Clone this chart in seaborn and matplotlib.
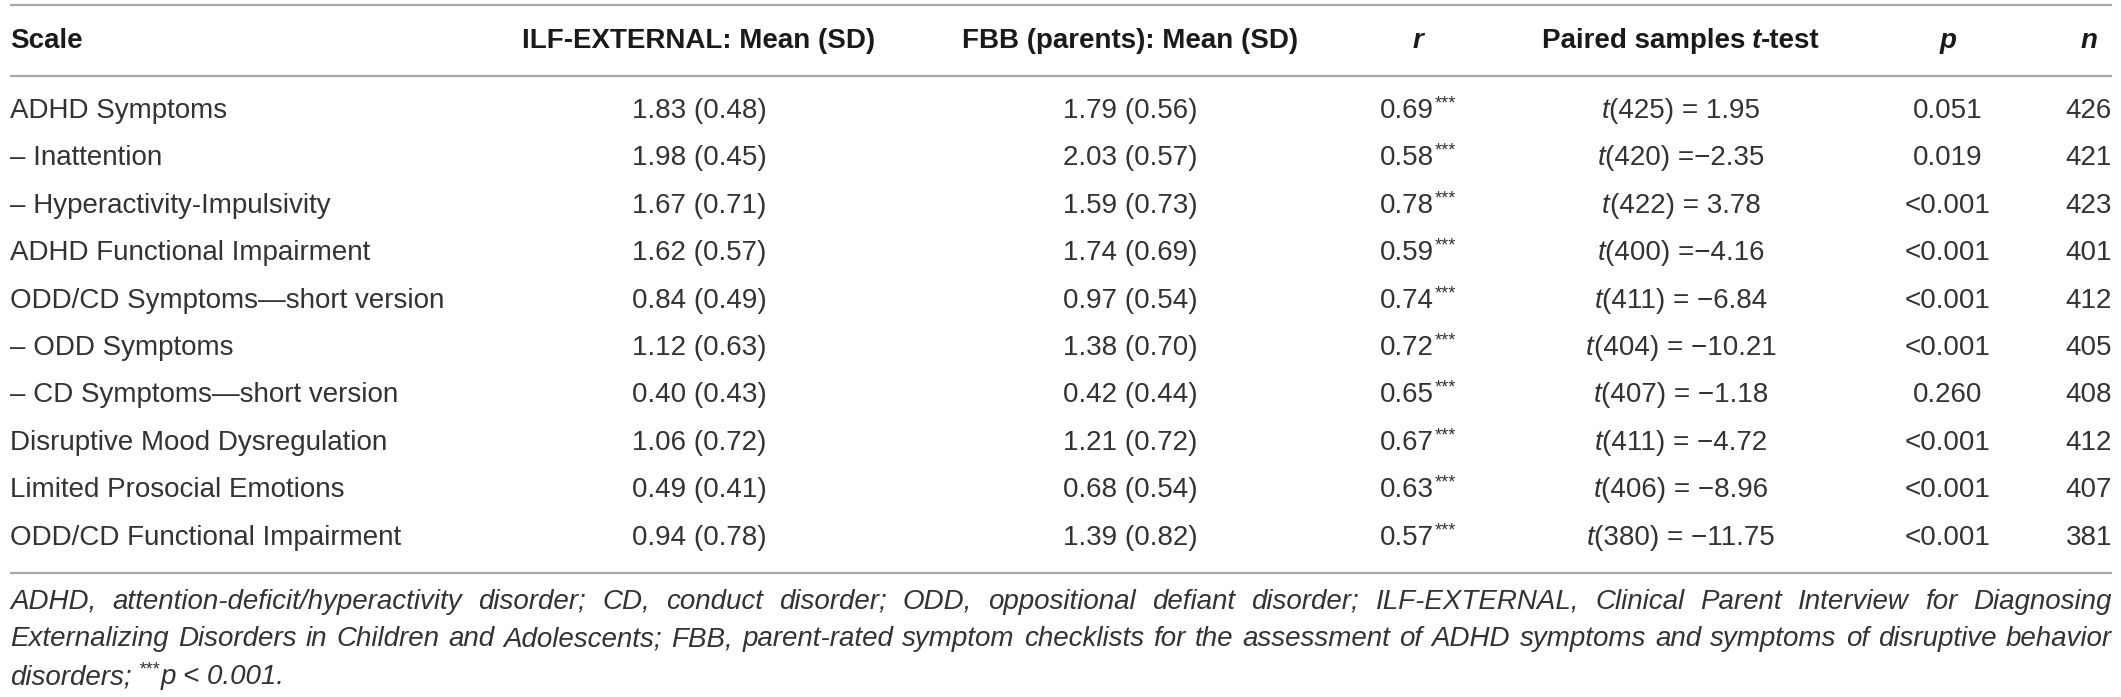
import matplotlib
matplotlib.use("Agg")
import matplotlib.pyplot as plt
import seaborn as sns

sns.set_theme(style="white")
FAM = ["Liberation Sans", "DejaVu Sans"]
plt.rcParams["font.family"] = FAM

# ---------------- data ----------------
header_scale = "Scale"
header_ilf = "ILF-EXTERNAL: Mean (SD)"
header_fbb = "FBB (parents): Mean (SD)"
scales = ["ADHD Symptoms", "– Inattention", "– Hyperactivity-Impulsivity",
          "ADHD Functional Impairment", "ODD/CD Symptoms—short version",
          "– ODD Symptoms", "– CD Symptoms—short version",
          "Disruptive Mood Dysregulation", "Limited Prosocial Emotions",
          "ODD/CD Functional Impairment"]
ilf_mean = ["1.83", "1.98", "1.67", "1.62", "0.84", "1.12", "0.40", "1.06", "0.49", "0.94"]
ilf_sd = ["0.48", "0.45", "0.71", "0.57", "0.49", "0.63", "0.43", "0.72", "0.41", "0.78"]
fbb_mean = ["1.79", "2.03", "1.59", "1.74", "0.97", "1.38", "0.42", "1.21", "0.68", "1.39"]
fbb_sd = ["0.56", "0.57", "0.73", "0.69", "0.54", "0.70", "0.44", "0.72", "0.54", "0.82"]
r_vals = ["0.69", "0.58", "0.78", "0.59", "0.74", "0.72", "0.65", "0.67", "0.63", "0.57"]
t_df = ["425", "420", "422", "400", "411", "404", "407", "411", "406", "380"]
t_vals = [" = 1.95", " =\u22122.35", " = 3.78", " =\u22124.16", " = \u22126.84",
          " = \u221210.21", " = \u22121.18", " = \u22124.72", " = \u22128.96", " = \u221211.75"]
p_vals = ["0.051", "0.019", "<0.001", "<0.001", "<0.001", "<0.001", "0.260", "<0.001", "<0.001", "<0.001"]
n_vals = ["426", "421", "423", "401", "412", "405", "408", "412", "407", "381"]
footnote_lines = [
    "ADHD, attention-deficit/hyperactivity disorder; CD, conduct disorder; ODD, oppositional defiant disorder; ILF-EXTERNAL, Clinical Parent Interview for Diagnosing",
    "Externalizing Disorders in Children and Adolescents; FBB, parent-rated symptom checklists for the assessment of ADHD symptoms and symptoms of disruptive behavior",
]
footnote_last = ["disorders;", "***", "p", "< 0.001."]

# ---------------- layout ----------------
W, H = 2121, 697
fig = plt.figure(figsize=(W / 100, H / 100), dpi=100)
ax = fig.add_axes([0, 0, 1, 1])
ax.set_xlim(0, W)
ax.set_ylim(H, 0)
ax.axis("off")

TXT = "#333333"
HEAD = "#1a1a1a"
LINE = "#a8a8a8"
FS = 20
SUP = 13
x_left, x_right = 10, 2112
col_x = [x_left, 699, 1130, 1418, 1681, 1948, 2089]
y_top, y_head, y_hline = 5, 41, 76
row0, dy = 111, 47.4
y_bottom = 573
foot_y = [602, 639, 677]

fig.canvas.draw()
renderer = fig.canvas.get_renderer()


def width_of(t):
    bb = t.get_window_extent(renderer)
    return bb.x1 - bb.x0


def runs(x, y, parts, align="center"):
    """parts: list of (text, kwargs, rise_px, gap_before_px)"""
    arts, widths = [], []
    for s, kw, rise, gap in parts:
        kw2 = dict(fontsize=FS, color=TXT)
        kw2.update(kw)
        a = ax.text(0, y - rise, s, ha="left", va="center", **kw2)
        arts.append((a, gap))
        widths.append(width_of(a))
    total = sum(widths) + sum(g for _, g in arts)
    if align == "center":
        cx = x - total / 2
    elif align == "left":
        cx = x
    else:
        cx = x - total
    for (a, gap), w in zip(arts, widths):
        cx += gap
        a.set_x(cx)
        cx += w


for y in (y_top, y_hline, y_bottom):
    ax.plot([x_left, x_right], [y, y], color=LINE, lw=1.6, solid_capstyle="butt")

B = dict(fontweight="bold", color=HEAD)
BI = dict(fontweight="bold", style="italic", color=HEAD)
I = dict(style="italic")
ax.text(col_x[0], y_head, header_scale, ha="left", va="center", fontsize=FS, **B)
ax.text(col_x[1], y_head, header_ilf, ha="center", va="center", fontsize=FS, **B)
ax.text(col_x[2], y_head, header_fbb, ha="center", va="center", fontsize=FS, **B)
runs(col_x[3], y_head, [("r", BI, 0, 0)])
runs(col_x[4], y_head, [("Paired samples", B, 0, 0), ("t", BI, 0, 6), ("-test", B, 0, 0)])
runs(col_x[5], y_head, [("p", BI, 0, 0)])
runs(col_x[6], y_head, [("n", BI, 0, 0)])

for k in range(len(scales)):
    y = row0 + k * dy
    ax.text(col_x[0], y, scales[k], ha="left", va="center", fontsize=FS, color=TXT)
    ax.text(col_x[1], y, f"{ilf_mean[k]} ({ilf_sd[k]})", ha="center", va="center", fontsize=FS, color=TXT)
    ax.text(col_x[2], y, f"{fbb_mean[k]} ({fbb_sd[k]})", ha="center", va="center", fontsize=FS, color=TXT)
    runs(col_x[3], y, [(r_vals[k], {}, 0, 0), ("***", dict(fontsize=SUP), 7, 1)])
    runs(col_x[4], y, [("t", I, 0, 0), ("(" + t_df[k] + ")" + t_vals[k], {}, 0, 0)])
    ax.text(col_x[5], y, p_vals[k], ha="center", va="center", fontsize=FS, color=TXT)
    ax.text(col_x[6], y, n_vals[k], ha="center", va="center", fontsize=FS, color=TXT)

# justified footnote
for li, line in enumerate(footnote_lines):
    y = foot_y[li]
    words = line.split(" ")
    arts = [ax.text(0, y, w, ha="left", va="center", fontsize=FS, style="italic", color=TXT)
            for w in words]
    widths = [width_of(a) for a in arts]
    gap = (x_right - x_left - sum(widths)) / (len(words) - 1)
    x = x_left
    for a, w in zip(arts, widths):
        a.set_x(x)
        x += w + gap

runs(x_left, foot_y[2], [(footnote_last[0], I, 0, 0),
                         (footnote_last[1], dict(fontsize=SUP, style="italic"), 7, 7),
                         (footnote_last[2], I, 0, 1),
                         (footnote_last[3], I, 0, 7)], align="left")

sns.despine(ax=ax, left=True, bottom=True)
fig.savefig("out.png", dpi=100, facecolor="white")
